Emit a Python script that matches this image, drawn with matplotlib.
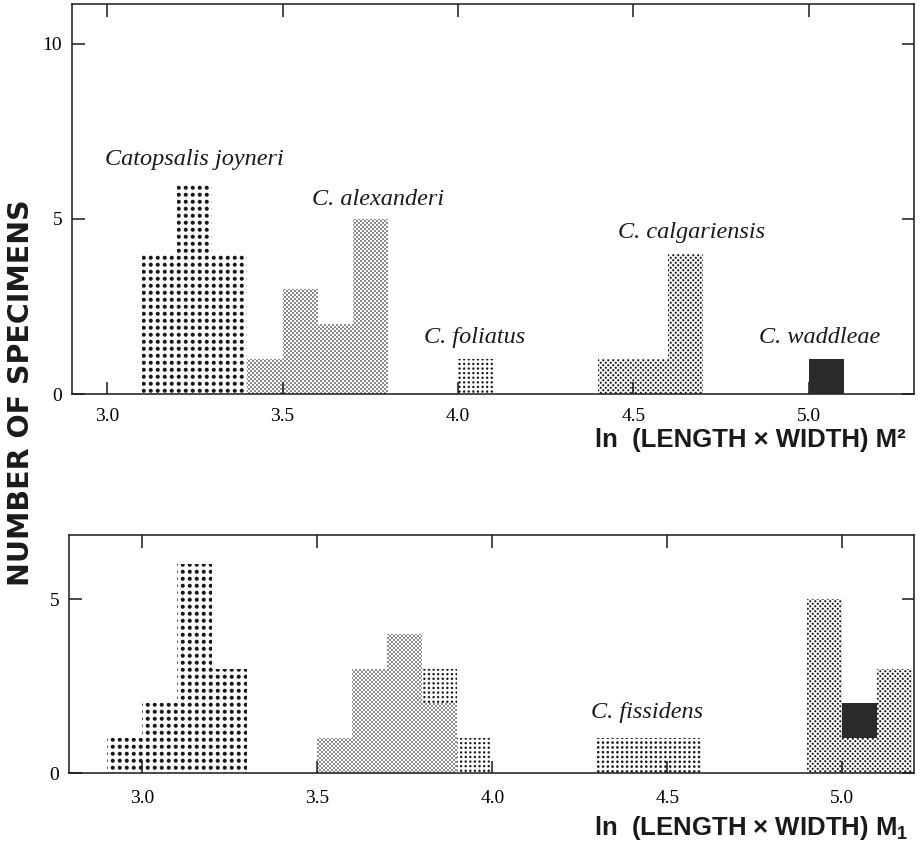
import numpy as np
import matplotlib
matplotlib.use("Agg")
import matplotlib.pyplot as plt
from matplotlib.path import Path

# ------------------------------------------------------------------ data
BIN_WIDTH = 0.1

# upper panel: ln(L x W) of M2
M2_JOYNERI_BINS = [3.1, 3.2, 3.3]
M2_JOYNERI_COUNTS = [4, 6, 4]
M2_ALEXANDERI_BINS = [3.4, 3.5, 3.6, 3.7]
M2_ALEXANDERI_COUNTS = [1, 3, 2, 5]
M2_FOLIATUS_BINS = [4.0]
M2_FOLIATUS_COUNTS = [1]
M2_CALGARIENSIS_BINS = [4.4, 4.5, 4.6]
M2_CALGARIENSIS_COUNTS = [1, 1, 4]
M2_WADDLEAE_BINS = [5.0]
M2_WADDLEAE_COUNTS = [1]

# lower panel: ln(L x W) of M1
M1_JOYNERI_BINS = [2.9, 3.0, 3.1, 3.2]
M1_JOYNERI_COUNTS = [1, 2, 6, 3]
M1_ALEXANDERI_BINS = [3.5, 3.6, 3.7, 3.8]
M1_ALEXANDERI_COUNTS = [1, 3, 4, 2]
M1_FOLIATUS_BINS = [3.8, 3.9]
M1_FOLIATUS_COUNTS = [1, 1]
M1_FISSIDENS_BINS = [4.3, 4.4, 4.5]
M1_FISSIDENS_COUNTS = [1, 1, 1]
M1_CALGARIENSIS_BINS = [4.9, 5.0, 5.1]
M1_CALGARIENSIS_COUNTS = [5, 1, 3]
M1_WADDLEAE_BINS = [5.0]
M1_WADDLEAE_COUNTS = [1]

X_TICKS = [3.0, 3.5, 4.0, 4.5, 5.0]
X_TICK_LABELS = ["3.0", "3.5", "4.0", "4.5", "5.0"]
TOP_Y_TICKS = [0, 5, 10]
BOT_Y_TICKS = [0, 5]

TOP_XLABEL = "ln  (LENGTH \u00d7 WIDTH) M\u00b2"
BOT_XLABEL = r"ln  (LENGTH $\times$ WIDTH) $\mathrm{M}_{\mathrm{1}}$"
YLABEL = "NUMBER OF SPECIMENS"

# species label text and anchor (data coords of each panel)
TOP_LABELS = [("Catopsalis joyneri", 3.25, 6.7),
              ("C. alexanderi", 3.772, 5.55),
              ("C. foliatus", 4.048, 1.6),
              ("C. calgariensis", 4.666, 4.6),
              ("C. waddleae", 5.031, 1.6)]
BOT_LABELS = [("C. fissidens", 4.441, 1.75)]

# ------------------------------------------------------------------ style
W_PX, H_PX, DPI = 924, 856, 100
INK = (0.1, 0.1, 0.1)

# texture of each species: (period px, dot radius px, staggered?)
TEXTURES = {
    "joyneri": (7.0, 2.0, False),
    "alexanderi": (4.0, 0.85, True),
    "foliatus": (4.6, 1.2, False),
    "fissidens": (4.8, 1.3, False),
    "calgariensis": (5.0, 1.1, True),
}

plt.rcParams["mathtext.fontset"] = "custom"
plt.rcParams["mathtext.rm"] = "Liberation Sans:bold"
plt.rcParams["mathtext.it"] = "Liberation Sans:bold"
plt.rcParams["mathtext.bf"] = "Liberation Sans:bold"
plt.rcParams["font.family"] = ["Liberation Serif", "DejaVu Serif"]

fig = plt.figure(figsize=(W_PX / DPI, H_PX / DPI), dpi=DPI)
fig.patch.set_facecolor("white")

# axes boxes in pixels: left, top, right, bottom
TOP_BOX = (72, 4, 914, 394)
BOT_BOX = (69, 535, 914, 773)
TOP_XLIM, TOP_YLIM = (2.9, 5.3), (0, 11.14)
BOT_XLIM, BOT_YLIM = (2.79, 5.205), (0, 6.84)


def make_axes(box):
    l, t, r, b = box
    ax = fig.add_axes([l / W_PX, 1 - b / H_PX, (r - l) / W_PX, (b - t) / H_PX])
    ax.set_facecolor("none")
    return ax


def dot_texture(h, w, period, radius, stagger, ss=4):
    ys = (np.arange(h * ss) + 0.5) / ss
    xs = (np.arange(w * ss) + 0.5) / ss
    X, Y = np.meshgrid(xs, ys)

    def d2(ox, oy):
        dx = np.mod(X - ox, period)
        dx = np.minimum(dx, period - dx)
        dy = np.mod(Y - oy, period)
        dy = np.minimum(dy, period - dy)
        return dx * dx + dy * dy

    dist2 = d2(period / 4, period / 4)
    if stagger:
        dist2 = np.minimum(dist2, d2(period * 0.75, period * 0.75))
    cov = (dist2 <= radius ** 2).astype(float)
    cov = cov.reshape(h, ss, w, ss).mean(axis=(1, 3))
    img = np.zeros((h, w, 4))
    img[..., 0], img[..., 1], img[..., 2] = INK
    img[..., 3] = np.clip(cov, 0, 1)
    return img


def draw_panel(ax, box, xlim, ylim, series):
    l, t, r, b = box
    w, h = int(round(r - l)), int(round(b - t))
    ax.set_xlim(*xlim)
    ax.set_ylim(*ylim)
    stack = {}
    for key, bins, counts in series:
        bottoms = [stack.get(round(x, 2), 0) for x in bins]
        if key == "waddleae":
            ax.bar(bins, counts, width=BIN_WIDTH, bottom=bottoms, align="edge",
                   color="#2a2a2a", edgecolor="none", zorder=3)
        else:
            bars = ax.bar(bins, counts, width=BIN_WIDTH, bottom=bottoms,
                          align="edge", facecolor="none", edgecolor="none",
                          zorder=2)
            per, rad, stag = TEXTURES[key]
            tex = dot_texture(h, w, per, rad, stag)
            rects = [p.get_path().transformed(p.get_patch_transform())
                     for p in bars.patches]
            clip = Path.make_compound_path(*rects)
            fi = fig.figimage(tex, xo=l, yo=H_PX - b, origin="upper", zorder=-1)
            fi.set_clip_path(clip, ax.transData)
        for x, c, b0 in zip(bins, counts, bottoms):
            stack[round(x, 2)] = b0 + c
    ax.set_xlim(*xlim)
    ax.set_ylim(*ylim)
    for s in ax.spines.values():
        s.set_linewidth(1.1)
        s.set_color("#1a1a1a")
    ax.tick_params(direction="in", length=9, width=1.1, color="#1a1a1a",
                   top=True, right=True, labelsize=14)
    ax.set_xticks(X_TICKS)
    ax.set_xticklabels(X_TICK_LABELS)


ax_top = make_axes(TOP_BOX)
draw_panel(ax_top, TOP_BOX, TOP_XLIM, TOP_YLIM, [
    ("joyneri", M2_JOYNERI_BINS, M2_JOYNERI_COUNTS),
    ("alexanderi", M2_ALEXANDERI_BINS, M2_ALEXANDERI_COUNTS),
    ("foliatus", M2_FOLIATUS_BINS, M2_FOLIATUS_COUNTS),
    ("calgariensis", M2_CALGARIENSIS_BINS, M2_CALGARIENSIS_COUNTS),
    ("waddleae", M2_WADDLEAE_BINS, M2_WADDLEAE_COUNTS),
])
ax_top.set_yticks(TOP_Y_TICKS)
ax_top.tick_params(axis="x", pad=10)
ax_top.tick_params(axis="y", pad=7)

ax_bot = make_axes(BOT_BOX)
draw_panel(ax_bot, BOT_BOX, BOT_XLIM, BOT_YLIM, [
    ("joyneri", M1_JOYNERI_BINS, M1_JOYNERI_COUNTS),
    ("alexanderi", M1_ALEXANDERI_BINS, M1_ALEXANDERI_COUNTS),
    ("foliatus", M1_FOLIATUS_BINS, M1_FOLIATUS_COUNTS),
    ("fissidens", M1_FISSIDENS_BINS, M1_FISSIDENS_COUNTS),
    ("calgariensis", M1_CALGARIENSIS_BINS, M1_CALGARIENSIS_COUNTS),
    ("waddleae", M1_WADDLEAE_BINS, M1_WADDLEAE_COUNTS),
])
ax_bot.set_yticks(BOT_Y_TICKS)
ax_bot.tick_params(axis="x", pad=12)
ax_bot.tick_params(axis="y", pad=7)

for txt, x, y in TOP_LABELS:
    ax_top.text(x, y, txt, ha="center", va="center", fontsize=17.5,
                style="italic", family=["Liberation Serif"], color="#1a1a1a")
for txt, x, y in BOT_LABELS:
    ax_bot.text(x, y, txt, ha="center", va="center", fontsize=17.5,
                style="italic", family=["Liberation Serif"], color="#1a1a1a")

fig.text(906 / W_PX, 1 - 440 / H_PX, TOP_XLABEL, ha="right", va="center",
         fontsize=18.5, fontweight="bold", family=["Liberation Sans"],
         color="#1a1a1a")
fig.text(908 / W_PX, 1 - 828 / H_PX, BOT_XLABEL, ha="right", va="center",
         fontsize=18.5, fontweight="bold", family=["Liberation Sans"],
         color="#1a1a1a")
fig.text(21 / W_PX, 1 - 393 / H_PX, YLABEL, rotation=90, ha="center",
         va="center", fontsize=20.5, fontweight="bold",
         family=["DejaVu Sans"], color="#1a1a1a")

fig.savefig("out.png", dpi=DPI, facecolor="white")
